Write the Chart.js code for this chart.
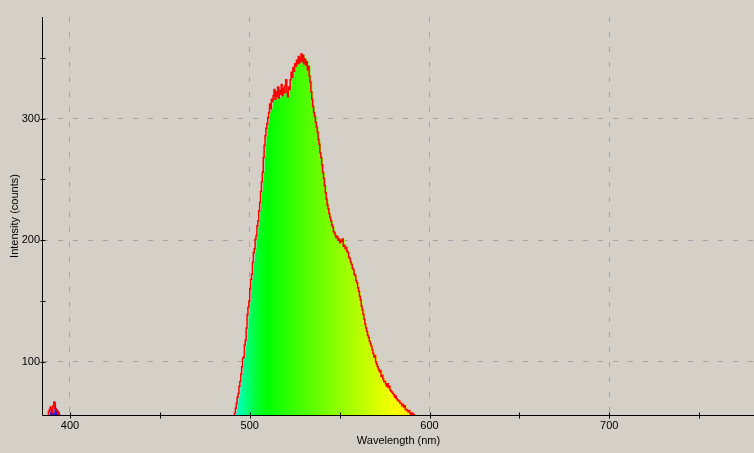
<!DOCTYPE html>
<html><head><meta charset="utf-8">
<script src="https://cdn.jsdelivr.net/npm/chart.js@4.4.0/dist/chart.umd.min.js"></script>
<style>html,body{margin:0;padding:0;background:#D4D0C8;overflow:hidden}#wrap{width:754px;height:453px}</style>
</head><body><div id="wrap"><canvas id="c" width="754" height="453"></canvas></div>
<script>
// ---- data ----
const violetWavelengths = [386,387,388,388.5,389,389.5,390,390.5,391,391.5,392,392.5,393,393.5,394,395];
const violetCounts      = [45,52,59,61,63,60,58,64,67,62,61,60,59,57,50,45];

const bandWavelengths = [
  490,490.5,491,491.5,492,492.5,493,493.5,494,494.5,495,495.5,496,496.5,497,497.5,498,498.5,499,499.5,
  500,500.5,501,501.5,502,502.5,503,503.5,504,504.5,505,505.5,506,506.5,507,507.5,508,508.5,509,509.5,
  510,510.5,511,511.5,512,512.5,513,513.5,514,514.5,515,515.5,516,516.5,517,517.5,518,518.5,519,519.5,
  520,520.5,521,521.5,522,522.5,523,523.5,524,524.5,525,525.5,526,526.5,527,527.5,528,528.5,529,529.5,
  530,530.5,531,531.5,532,532.5,533,533.5,534,534.5,535,535.5,536,536.5,537,537.5,538,538.5,539,539.5,
  540,540.5,541,541.5,542,542.5,543,543.5,544,544.5,545,545.5,546,546.5,547,547.5,548,548.5,549,549.5,
  550,550.5,551,551.5,552,552.5,553,553.5,554,554.5,555,555.5,556,556.5,557,557.5,558,558.5,559,559.5,
  560,560.5,561,561.5,562,562.5,563,563.5,564,564.5,565,565.5,566,566.5,567,567.5,568,568.5,569,569.5,
  570,570.5,571,571.5,572,572.5,573,573.5,574,574.5,575,575.5,576,576.5,577,577.5,578,578.5,579,579.5,
  580,580.5,581,581.5,582,582.5,583,583.5,584,584.5,585,585.5,586,586.5,587,587.5,588,588.5,589,589.5,
  590,590.5,591,591.5,592,592.5];
const bandCounts = [
  40,45,52,58,62,66,71,74,80,84,90,96,103,104,114,118,128,139,145,150,
  160,168,172,182,190,193,201,204,212,216,224,231,240,248,256,268,278,286,292,296,
  301,305,312,308,316,314,319,324,316,322,318,326,317,323,320,328,319,325,321,327,
  332,322,318,326,324,332,338,334,342,339,345,343,348,345,351,346,349,353,347,352,
  345,349,344,347,340,343,335,330,322,316,310,305,302,297,293,289,283,279,272,268,
  262,256,251,245,239,234,229,226,222,219,216,213,211,207,206,204,202,203,200,201,
  198,200,199,201,195,196,193,194,191,190,186,185,182,180,177,176,172,171,167,165,
  161,158,154,151,146,143,139,135,131,128,125,122,120,117,115,113,110,107,104,105,
  100,98,96,94,92,93,88,89,86,84,84,82,80,82,79,80,77,76,75,74,
  73,71,72,70,69,68,68,66,66,64,65,63,64,61,61,60,59,60,58,57,
  58,56,57,55,52,50];

const xTickLabels = [400,500,600,700];
const yTickLabels = [100,200,300];

// ---- style ----
const FILL_SHIFT_NM = 0.8;   // the coloured fill sits slightly right of the red trace
const spectrumStops = [
  [380,'rgb(90,0,150)'],[390,'rgb(60,20,200)'],[400,'rgb(40,0,255)'],
  [440,'rgb(0,60,255)'],[470,'rgb(0,170,255)'],[485,'rgb(0,240,255)'],
  [490,'rgb(0,255,225)'],[495,'rgb(0,255,170)'],[500,'rgb(0,255,100)'],
  [505,'rgb(0,255,40)'],[510,'rgb(0,255,0)'],[520,'rgb(40,255,0)'],
  [530,'rgb(75,255,0)'],[540,'rgb(110,255,0)'],[550,'rgb(145,255,0)'],
  [560,'rgb(180,255,0)'],[570,'rgb(215,255,0)'],[580,'rgb(245,255,0)'],
  [585,'rgb(255,245,0)'],[590,'rgb(255,225,0)'],[600,'rgb(255,190,0)']
];
const FONT = {family:'"Liberation Sans", Arial, sans-serif', size:11};

function spectrumFill(context){
  const chart = context.chart;
  const {ctx, chartArea, scales} = chart;
  if (!chartArea) return 'rgba(0,0,0,0)';
  const sx = scales.x;
  const x0 = sx.getPixelForValue(spectrumStops[0][0]);
  const x1 = sx.getPixelForValue(spectrumStops[spectrumStops.length-1][0]);
  const g = ctx.createLinearGradient(x0,0,x1,0);
  spectrumStops.forEach(([w,c]) => g.addColorStop((sx.getPixelForValue(w)-x0)/(x1-x0), c));
  return g;
}

const toPoints = (xs, ys, dx=0) => xs.map((w,i)=>({x:w+dx, y:ys[i]}));

const bgPlugin = {
  id:'bg',
  beforeDraw(chart){
    const c = chart.ctx; c.save(); c.fillStyle='#D4D0C8';
    c.fillRect(0,0,chart.width,chart.height); c.restore();
  }
};
const axesPlugin = {
  id:'axesOver',
  afterDatasetsDraw(chart){
    const {ctx, chartArea:a, scales} = chart;
    ctx.save();
    ctx.strokeStyle='#000'; ctx.lineWidth=1;
    ctx.beginPath();
    const by = Math.round(a.bottom)+0.5, lx = Math.round(a.left)-0.5;
    ctx.moveTo(lx, by); ctx.lineTo(a.right, by);
    ctx.moveTo(lx, a.top); ctx.lineTo(lx, by);
    scales.x.ticks.forEach(t=>{
      const px = Math.round(scales.x.getPixelForValue(t.value))+0.5;
      ctx.moveTo(px, by+3); ctx.lineTo(px, by-3);
    });
    scales.y.ticks.forEach(t=>{
      const py = Math.round(scales.y.getPixelForValue(t.value))+0.5;
      ctx.moveTo(lx-2, py); ctx.lineTo(lx+3, py);
    });
    ctx.stroke();
    ctx.restore();
  }
};

const gridColor = (ctx, labels) => (ctx.tick && labels.includes(ctx.tick.value)) ? '#a4a4a4' : 'rgba(0,0,0,0)';

const lineStyle = {borderColor:'#ff0000', borderWidth:1.5, fill:false, stepped:true, pointRadius:0};
const fillStyle = {borderWidth:0, borderColor:'rgba(0,0,0,0)', backgroundColor:spectrumFill, fill:'start', stepped:true, pointRadius:0};

new Chart(document.getElementById('c'), {
  type:'line',
  data:{datasets:[
    Object.assign({data:toPoints(violetWavelengths, violetCounts)}, lineStyle),
    Object.assign({data:toPoints(bandWavelengths, bandCounts)}, lineStyle),
    Object.assign({data:toPoints(violetWavelengths, violetCounts, FILL_SHIFT_NM)}, fillStyle),
    Object.assign({data:toPoints(bandWavelengths, bandCounts, FILL_SHIFT_NM)}, fillStyle)
  ]},
  options:{
    responsive:false, animation:false, devicePixelRatio:1,
    layout:{padding:{top:17,right:0,left:0,bottom:0}},
    plugins:{legend:{display:false}, tooltip:{enabled:false}},
    scales:{
      x:{type:'linear', position:'bottom', min:385, max:780.5,
        afterFit:s=>{s.height=38;},
        border:{display:false, dash:[5,10]},
        grid:{color:c=>gridColor(c,xTickLabels), lineWidth:1, drawTicks:false},
        ticks:{stepSize:50, includeBounds:false, autoSkip:false, maxRotation:0, padding:4, color:'#000', font:FONT,
          callback:v=>xTickLabels.includes(v)?String(v):''},
        title:{display:true, text:'Wavelength (nm)', color:'#000', font:FONT, padding:{top:0,bottom:5}}
      },
      y:{type:'linear', position:'left', min:56.4, max:383.5,
        afterFit:s=>{s.width=43;},
        border:{display:false, dash:[5,10]},
        grid:{color:c=>gridColor(c,yTickLabels), lineWidth:1, drawTicks:false},
        ticks:{stepSize:50, includeBounds:false, autoSkip:false, padding:3, color:'#000', font:FONT,
          callback:v=>yTickLabels.includes(v)?String(v):''},
        title:{display:true, text:'Intensity (counts)', color:'#000', font:FONT, padding:{top:8,bottom:0}}
      }
    }
  },
  plugins:[bgPlugin, axesPlugin]
});
</script></body></html>
